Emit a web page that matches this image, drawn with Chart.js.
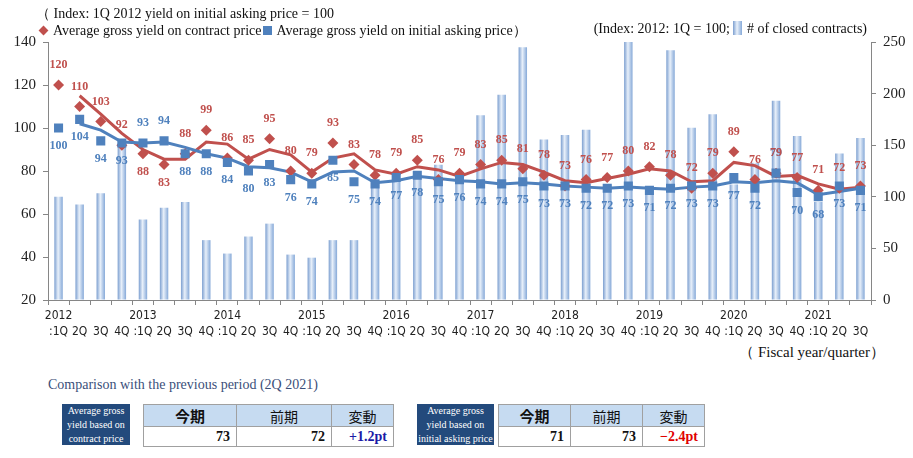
<!DOCTYPE html>
<html>
<head>
<meta charset="utf-8">
<script src="https://cdn.jsdelivr.net/npm/chart.js@4.4.0/dist/chart.umd.min.js"></script>
<style>
  body { margin: 0; background: #fff; font-family: "Liberation Serif", serif; color: #111; }
  #wrap { position: relative; width: 913px; height: 458px; overflow: hidden; }
  #chart { position: absolute; left: 0; top: 0; }
  .txt { position: absolute; white-space: nowrap; font-size: 14px; line-height: 16px; }
  .dia { display: inline-block; width: 7px; height: 7px; background: #c0504d; transform: rotate(45deg); margin: 0 6px 1px 4px; }
  .sq { display: inline-block; width: 9px; height: 9px; background: #4f81bd; margin: 0 5px 0 1px; }
  .baricon { display: inline-block; width: 9px; height: 14px; vertical-align: -2px; margin: 0 5px 0 3px;
    background: linear-gradient(to right, #7c9fd0, #e8f0fa 45%, #86a9d8); }
  .navy { position: absolute; background: #234a7c; color: #fff; font-size: 10px; line-height: 14px; text-align: center; padding-top: 0; box-sizing: border-box; }
  table.cmp { position: absolute; border-collapse: collapse; table-layout: fixed; }
  table.cmp td { border: 1px solid #a0a0a0; padding: 0 6px; height: 19px; font-size: 14px; }
  table.cmp tr.h td { background: #c6dbf1; text-align: center; font-family: "Noto Sans CJK JP", sans-serif; font-size: 14px; }
  table.cmp tr.v td { background: #fff; text-align: right; font-weight: bold; }
</style>
</head>
<body>
<div id="wrap">
  <canvas id="chart" width="913" height="340"></canvas>
  <div class="txt" style="left:36px;top:6px;">（ Index: 1Q 2012 yield on initial asking price = 100</div>
  <div class="txt" style="left:36px;top:23px;"><span class="dia"></span>Average gross yield on contract price<span class="sq"></span>Average gross yield on initial asking price）</div>
  <div class="txt" style="right:46px;top:21px;">(Index: 2012: 1Q = 100;<span class="baricon"></span># of closed contracts)</div>
  <div class="txt" style="right:28px;top:344px;font-size:15px;">（ Fiscal year/quarter）</div>
  <div class="txt" style="left:48px;top:377px;color:#3b4f7a;">Comparison with the previous period (2Q 2021)</div>

  <div class="navy" style="left:62px;top:404px;width:68px;height:41px;">Average gross<br>yield based on<br>contract price</div>
  <table class="cmp" style="left:143px;top:404px;width:250px;">
    <colgroup><col style="width:93px"><col style="width:95px"><col style="width:62px"></colgroup>
    <tr class="h"><td style="font-weight:bold;font-size:15px;">今期</td><td>前期</td><td>変動</td></tr>
    <tr class="v"><td>73</td><td>72</td><td style="color:#1a1aa6;">+1.2pt</td></tr>
  </table>

  <div class="navy" style="left:417px;top:404px;width:77px;height:41px;">Average gross<br>yield based on<br>initial asking price</div>
  <table class="cmp" style="left:498px;top:404px;width:206px;">
    <colgroup><col style="width:72px"><col style="width:72px"><col style="width:62px"></colgroup>
    <tr class="h"><td style="font-weight:bold;font-size:15px;">今期</td><td>前期</td><td>変動</td></tr>
    <tr class="v"><td>71</td><td>73</td><td style="color:#e00000;">−2.4pt</td></tr>
  </table>
</div>

<script>
// --- Data ---
const years = ['2012', '2013', '2014', '2015', '2016', '2017', '2018', '2019', '2020', '2021'];
const quarters = [':1Q', '2Q', '3Q', '4Q'];

const contractYield = [120, 110, 103, 92, 88, 83, 88, 99, 86, 85, 95, 80, 79, 93, 83, 78, 79, 85, 76, 79,
                       83, 85, 81, 78, 73, 76, 77, 80, 82, 78, 72, 79, 89, 76, 79, 77, 71, 72, 73];
const askingYield = [100, 104, 94, 93, 93, 94, 88, 88, 84, 80, 83, 76, 74, 85, 75, 74, 77, 78, 75, 76,
                     74, 74, 75, 73, 73, 72, 72, 73, 71, 72, 73, 73, 77, 72, 79, 70, 68, 73, 71];
// trend lines as drawn in the picture
const contractTrend = [null, 115, 106.5, 97.5, 90, 85.5, 85.5, 93.5, 92.5, 85.5, 90, 87.5, 79.5, 86, 88, 80.5, 78.5, 82, 80.5, 77.5,
                       81, 84, 83, 79.5, 75.5, 74.5, 76.5, 78.5, 81, 80, 75, 75.5, 84, 82.5, 77.5, 78, 74, 71.5, 72.5];
const askingTrend = [null, 102, 99, 93.5, 93, 93.5, 91, 88, 86, 82, 81.5, 79.5, 75, 79.5, 80, 74.5, 75.5, 77.5, 76.5, 75.5,
                     75, 74, 74.5, 74, 73, 72.5, 72, 72.5, 72, 71.5, 72.5, 73, 75, 74.5, 75.5, 74.5, 69, 70.5, 72];
const closedContracts = [100, 92.5, 103.5, 152, 78, 89.5, 95, 58, 45, 61.5, 74, 44, 41, 58, 58, 115, 115, 120, 131, 118,
                         179, 199, 245, 155.5, 160, 165, 112, 251, 110, 242, 167, 180, 112, 133, 193, 159, 95, 142, 157];

// label placement exceptions (index of points whose label sits on the other side)
const contractLabelsBelow = [4, 5];
const askingLabelsAbove = [4, 5, 34];

// build category labels (year on the first quarter only)
const labels = [];
for (let i = 0; i < contractYield.length; i++) {
    const q = i % 4;
    labels.push([q === 0 ? years[Math.floor(i / 4)] : '', quarters[q]]);
}

const RED = '#c0504d';
const BLUE = '#4f81bd';

// gradient for the cylinder-like bars
function barFill(c) {
    const chart = c.chart;
    if (!chart.chartArea || c.dataIndex === undefined) return '#c6d9f0';
    const x = chart.scales.x.getPixelForValue(c.dataIndex);
    const g = chart.ctx.createLinearGradient(x - 4.2, 0, x + 4.2, 0);
    g.addColorStop(0, '#7c9fd0');
    g.addColorStop(0.45, '#e8f0fa');
    g.addColorStop(1, '#86a9d8');
    return g;
}

// draws the value labels next to the markers
const pointLabels = {
    id: 'pointLabels',
    afterDatasetsDraw(chart) {
        const ctx = chart.ctx;
        chart.data.datasets.forEach((ds, di) => {
            if (!ds.labelColor) return;
            const meta = chart.getDatasetMeta(di);
            ctx.save();
            ctx.font = 'bold 12px "Liberation Serif", serif';
            ctx.fillStyle = ds.labelColor;
            ctx.textAlign = 'center';
            ctx.textBaseline = 'middle';
            meta.data.forEach((pt, i) => {
                let above = ds.labelSide === 'above';
                if (ds.labelFlip.includes(i)) above = !above;
                ctx.fillText(ds.data[i], pt.x, pt.y + (above ? -20 : 18));
            });
            ctx.restore();
        });
    }
};

const axisFont = { family: '"Liberation Serif", serif', size: 15 };

new Chart(document.getElementById('chart'), {
    type: 'bar',
    data: {
        labels: labels,
        datasets: [
            {
                type: 'line', data: askingYield, showLine: false,
                pointStyle: 'rect', pointRadius: 6.4, pointBackgroundColor: BLUE, pointBorderWidth: 0,
                yAxisID: 'y', order: 1,
                labelColor: BLUE, labelSide: 'below', labelFlip: askingLabelsAbove
            },
            {
                type: 'line', data: contractYield, showLine: false,
                pointStyle: 'rectRot', pointRadius: 5.5, pointBackgroundColor: RED, pointBorderWidth: 0,
                yAxisID: 'y', order: 2,
                labelColor: RED, labelSide: 'above', labelFlip: contractLabelsBelow
            },
            {
                type: 'line', data: askingTrend, borderColor: BLUE, borderWidth: 3, pointRadius: 0,
                tension: 0, yAxisID: 'y', order: 3
            },
            {
                type: 'line', data: contractTrend, borderColor: RED, borderWidth: 3, pointRadius: 0,
                tension: 0, yAxisID: 'y', order: 4
            },
            {
                type: 'bar', data: closedContracts, backgroundColor: barFill, borderWidth: 0,
                barPercentage: 0.4, categoryPercentage: 1, yAxisID: 'y1', order: 5
            }
        ]
    },
    options: {
        responsive: false,
        animation: false,
        layout: { padding: { top: 42, left: 0, right: 0, bottom: 0 } },
        plugins: { legend: { display: false }, tooltip: { enabled: false } },
        scales: {
            x: {
                offset: true,
                grid: { display: true, drawOnChartArea: false, drawTicks: true, tickLength: 5, color: '#868686', offset: true },
                border: { color: '#868686' },
                ticks: {
                    autoSkip: false, maxRotation: 0, minRotation: 0, padding: 3, color: '#222',
                    font: { family: '"DejaVu Sans Condensed", "Liberation Sans", sans-serif', size: 12, lineHeight: 1.35 }
                },
                afterFit: s => { s.height = 40; }
            },
            y: {
                position: 'left', min: 20, max: 140,
                ticks: { stepSize: 20, padding: 7, color: '#222', font: axisFont },
                grid: { drawOnChartArea: false, tickLength: 5, color: '#868686' },
                border: { color: '#868686' },
                afterFit: s => { s.width = 48; }
            },
            y1: {
                position: 'right', min: 0, max: 250,
                ticks: { stepSize: 50, padding: 7, color: '#222', font: axisFont },
                grid: { drawOnChartArea: false, tickLength: 5, color: '#868686' },
                border: { color: '#868686' },
                afterFit: s => { s.width = 42; }
            }
        }
    },
    plugins: [pointLabels]
});
</script>
</body>
</html>
